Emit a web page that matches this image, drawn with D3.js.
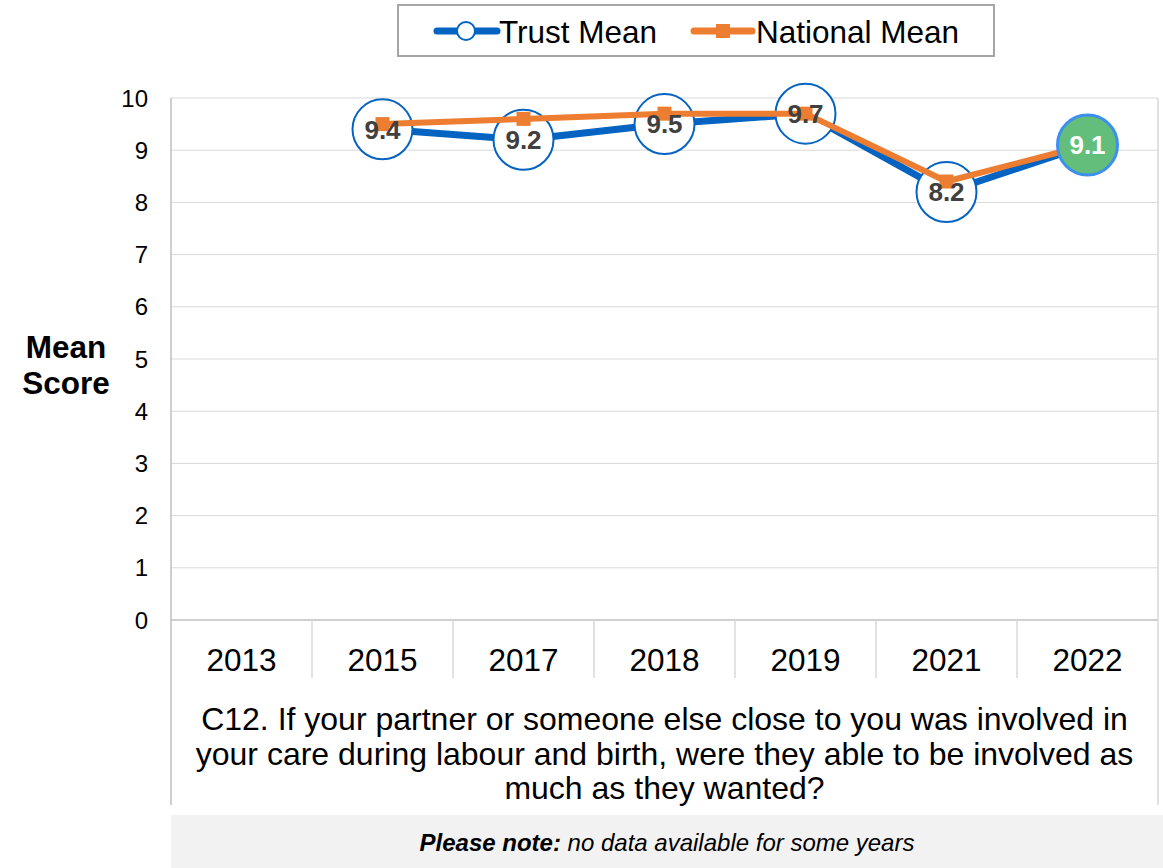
<!DOCTYPE html>
<html>
<head>
<meta charset="utf-8">
<script src="https://cdn.jsdelivr.net/npm/d3@7"></script>
<style>
  html, body { margin: 0; padding: 0; background: #ffffff; }
  svg { display: block; font-family: "Liberation Sans", Arial, sans-serif; }
</style>
</head>
<body>
<svg id="chart" width="1163" height="868"></svg>
<script>
// ---- Data ----
const years = ["2013", "2015", "2017", "2018", "2019", "2021", "2022"];
const trustMean = [null, 9.4, 9.2, 9.5, 9.7, 8.2, 9.1];
const nationalMean = [null, 9.5, 9.6, 9.7, 9.7, 8.4, 9.1];
const yTicks = [0, 1, 2, 3, 4, 5, 6, 7, 8, 9, 10];
const seriesNames = ["Trust Mean", "National Mean"];
const questionLines = [
  "C12. If your partner or someone else close to you was involved in",
  "your care during labour and birth, were they able to be involved as",
  "much as they wanted?"
];
const noteBold = "Please note:";
const noteText = " no data available for some years";
const yTitle = ["Mean", "Score"];

// ---- Setup ----
const svg = d3.select("#chart");
const pLeft = 171, pRight = 1158, pTop = 98, pBottom = 620;
const blue = "#0563c1", orange = "#ed7d31", grid = "#d9d9d9", axisCol = "#bfbfbf";

const x = d3.scaleBand().domain(years).range([pLeft, pRight]).padding(0);
const y = d3.scaleLinear().domain([0, 10]).range([pBottom, pTop]);
const cx = d => x(d) + x.bandwidth() / 2;

// gridlines
svg.append("g").selectAll("line").data(yTicks.filter(t => t > 0)).join("line")
  .attr("x1", pLeft).attr("x2", pRight)
  .attr("y1", d => y(d)).attr("y2", d => y(d))
  .attr("stroke", grid).attr("stroke-width", 1);

// y tick labels
svg.append("g").selectAll("text").data(yTicks).join("text")
  .attr("x", 148).attr("y", d => y(d)).attr("dy", "0.36em")
  .attr("text-anchor", "end").attr("font-size", 24).attr("fill", "#000")
  .text(d => d);

// y title
svg.append("text").attr("text-anchor", "middle").attr("font-weight", "bold")
  .attr("font-size", 31.5).attr("fill", "#000")
  .selectAll("tspan").data(yTitle).join("tspan")
  .attr("x", 66).attr("y", (d, i) => 358 + i * 36).text(d => d);

// axes / borders
svg.append("line").attr("x1", pLeft).attr("x2", pRight).attr("y1", pBottom).attr("y2", pBottom)
  .attr("stroke", axisCol).attr("stroke-width", 1.5);
svg.append("line").attr("x1", pLeft).attr("x2", pLeft).attr("y1", pTop).attr("y2", 805)
  .attr("stroke", axisCol).attr("stroke-width", 1.5);
svg.append("line").attr("x1", pRight).attr("x2", pRight).attr("y1", pTop).attr("y2", 805)
  .attr("stroke", grid).attr("stroke-width", 1.5);

// category separators
svg.append("g").selectAll("line").data(years.slice(1)).join("line")
  .attr("x1", d => x(d)).attr("x2", d => x(d))
  .attr("y1", pBottom).attr("y2", 678)
  .attr("stroke", grid).attr("stroke-width", 1.5);

// year labels
svg.append("g").selectAll("text").data(years).join("text")
  .attr("x", d => cx(d)).attr("y", 671)
  .attr("text-anchor", "middle").attr("font-size", 31.5).attr("fill", "#000")
  .text(d => d);

// question text
svg.append("text").attr("text-anchor", "middle").attr("font-size", 32).attr("fill", "#000")
  .selectAll("tspan").data(questionLines).join("tspan")
  .attr("x", (pLeft + pRight) / 2).attr("y", (d, i) => 730 + i * 34.5).text(d => d);

// note box
svg.append("rect").attr("x", 171).attr("y", 815).attr("width", 992).attr("height", 53)
  .attr("fill", "#f2f2f2");
const note = svg.append("text").attr("x", 667).attr("y", 851).attr("text-anchor", "middle")
  .attr("font-size", 24).attr("font-style", "italic").attr("fill", "#000");
note.append("tspan").attr("font-weight", "bold").text(noteBold);
note.append("tspan").text(noteText);

// series data
const trustData = years.map((yr, i) => ({ yr, v: trustMean[i] })).filter(d => d.v !== null);
const natData = years.map((yr, i) => ({ yr, v: nationalMean[i] })).filter(d => d.v !== null);
const line = d3.line().x(d => cx(d.yr)).y(d => y(d.v));

// trust line
svg.append("path").datum(trustData).attr("d", line)
  .attr("fill", "none").attr("stroke", blue).attr("stroke-width", 7).attr("stroke-linejoin", "round");

// trust circles (non-highlight)
const last = trustData[trustData.length - 1];
svg.append("g").selectAll("circle").data(trustData.slice(0, -1)).join("circle")
  .attr("cx", d => cx(d.yr)).attr("cy", d => y(d.v)).attr("r", 30)
  .attr("fill", "#fff").attr("stroke", blue).attr("stroke-width", 2);

// national line
svg.append("path").datum(natData).attr("d", line)
  .attr("fill", "none").attr("stroke", orange).attr("stroke-width", 6).attr("stroke-linejoin", "round");
svg.append("g").selectAll("rect").data(natData).join("rect")
  .attr("x", d => cx(d.yr) - 7).attr("y", d => y(d.v) - 7)
  .attr("width", 14).attr("height", 14).attr("fill", orange);

// highlight circle for latest
svg.append("circle").attr("cx", cx(last.yr)).attr("cy", y(last.v)).attr("r", 30)
  .attr("fill", "#63be7b").attr("stroke", "#3c8ff0").attr("stroke-width", 3);

// labels
svg.append("g").selectAll("text").data(trustData).join("text")
  .attr("x", d => cx(d.yr)).attr("y", d => y(d.v)).attr("dy", "0.36em")
  .attr("text-anchor", "middle").attr("font-size", 26).attr("font-weight", "bold")
  .attr("fill", d => d === last ? "#ffffff" : "#404040")
  .text(d => d.v.toFixed(1));

// legend
const lg = svg.append("g");
lg.append("rect").attr("x", 398).attr("y", 5).attr("width", 596).attr("height", 51)
  .attr("fill", "#fff").attr("stroke", "#a6a6a6").attr("stroke-width", 2);
lg.append("line").attr("x1", 437).attr("x2", 497).attr("y1", 31).attr("y2", 31)
  .attr("stroke", blue).attr("stroke-width", 7).attr("stroke-linecap", "round");
lg.append("circle").attr("cx", 466).attr("cy", 31).attr("r", 9)
  .attr("fill", "#fff").attr("stroke", blue).attr("stroke-width", 2);
lg.append("text").attr("x", 499).attr("y", 43).attr("font-size", 31.5).attr("fill", "#000").text(seriesNames[0]);
lg.append("line").attr("x1", 694).attr("x2", 752).attr("y1", 31).attr("y2", 31)
  .attr("stroke", orange).attr("stroke-width", 7).attr("stroke-linecap", "round");
lg.append("rect").attr("x", 716).attr("y", 24).attr("width", 14).attr("height", 14).attr("fill", orange);
lg.append("text").attr("x", 756).attr("y", 43).attr("font-size", 31.5).attr("fill", "#000").text(seriesNames[1]);
</script>
</body>
</html>
